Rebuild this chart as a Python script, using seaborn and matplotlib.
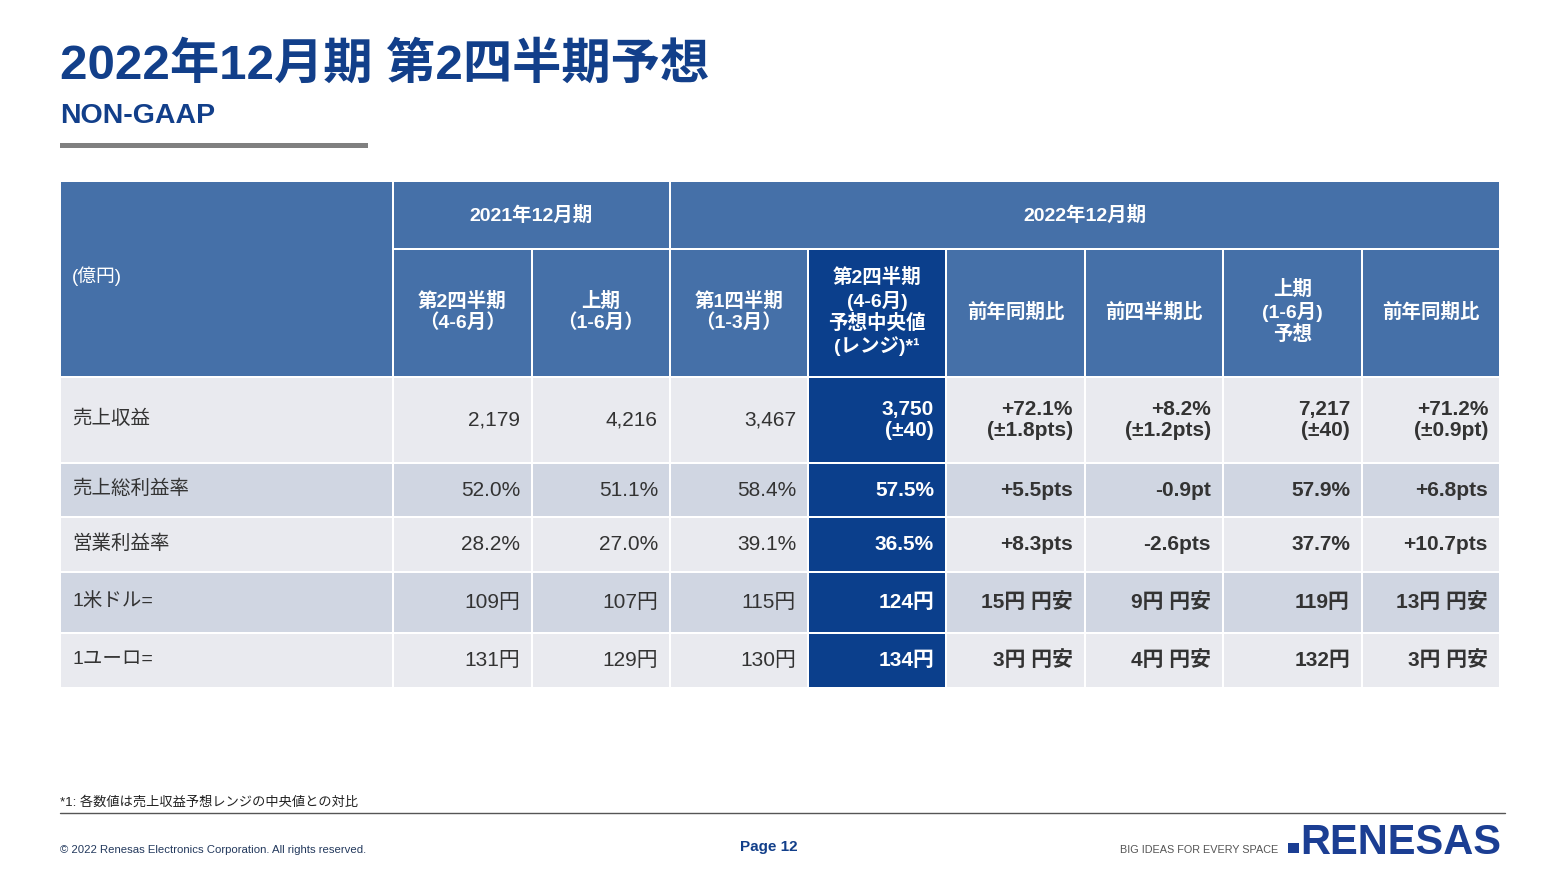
import matplotlib
matplotlib.use("Agg")
import matplotlib.pyplot as plt
from matplotlib.patches import Rectangle
import seaborn as sns

# ---------------- data ----------------
title = "2022年12月期 第2四半期予想"
subtitle = "NON-GAAP"
unit_label = "(億円)"
group_labels = ["2021年12月期", "2022年12月期"]
group_spans = [(1, 3), (3, 9)]          # column index ranges covered by each group
col_labels = ["第2四半期\n（4-6月）", "上期\n（1-6月）", "第1四半期\n（1-3月）",
              "第2四半期\n(4-6月)\n予想中央値\n(レンジ)*¹", "前年同期比", "前四半期比",
              "上期\n(1-6月)\n予想", "前年同期比"]
row_labels = ["売上収益", "売上総利益率", "営業利益率", "1米ドル=", "1ユーロ="]

q2_2021 = ["2,179", "52.0%", "28.2%", "109円", "131円"]
h1_2021 = ["4,216", "51.1%", "27.0%", "107円", "129円"]
q1_2022 = ["3,467", "58.4%", "39.1%", "115円", "130円"]
q2_2022_fc = ["3,750\n(±40)", "57.5%", "36.5%", "124円", "134円"]
yoy_q2 = ["+72.1%\n(±1.8pts)", "+5.5pts", "+8.3pts", "15円 円安", "3円 円安"]
qoq_q2 = ["+8.2%\n(±1.2pts)", "-0.9pt", "-2.6pts", "9円 円安", "4円 円安"]
h1_2022_fc = ["7,217\n(±40)", "57.9%", "37.7%", "119円", "132円"]
yoy_h1 = ["+71.2%\n(±0.9pt)", "+6.8pts", "+10.7pts", "13円 円安", "3円 円安"]
value_columns = [q2_2021, h1_2021, q1_2022, q2_2022_fc, yoy_q2, qoq_q2, h1_2022_fc, yoy_h1]
highlight_col = 3
bold_cols = [3, 4, 5, 6, 7]

footnote = "*1: 各数値は売上収益予想レンジの中央値との対比"
copyright_txt = "© 2022 Renesas Electronics Corporation. All rights reserved."
page_txt = "Page 12"
tagline = "BIG IDEAS FOR EVERY SPACE"
logo_txt = "RENESAS"

# ---------------- layout / style ----------------
col_edges = [60, 393, 532, 670, 808, 946, 1085, 1223, 1362, 1500]
row_edges = [181, 249, 377, 463, 517, 572, 633, 688]
HEAD_BLUE = "#4570a8"
DARK_BLUE = "#0b3f8c"
NAVY = "#123f8a"
LIGHT = "#e9eaef"
ALT = "#d0d6e2"
TXT = "#333333"

sns.set_theme(style="white")
FONT = ["Liberation Sans", "Noto Sans CJK JP", "DejaVu Sans"]
plt.rcParams["font.family"] = FONT

fig = plt.figure(figsize=(15.65, 8.8), dpi=100)
ax = fig.add_axes([0, 0, 1, 1])
ax.set_xlim(0, 1565)
ax.set_ylim(880, 0)
ax.axis("off")


def cell(x0, x1, y0, y1, color):
    ax.add_patch(Rectangle((x0 + 1, y0 + 1), x1 - x0 - 2, y1 - y0 - 2,
                           facecolor=color, edgecolor="none"))


# title block
ax.text(60, 66, title, fontsize=35.5, fontweight="bold", color=NAVY, ha="left", va="center")
ax.text(60, 116, subtitle, fontsize=20.5, fontweight="bold", color=NAVY, ha="left", va="center")
ax.add_patch(Rectangle((60, 143), 308, 5, facecolor="#808080", edgecolor="none"))

# header
cell(col_edges[0], col_edges[1], row_edges[0], row_edges[2], HEAD_BLUE)
ax.text(72, 276, unit_label, fontsize=13.5, color="white", ha="left", va="center")
for lab, (c0, c1) in zip(group_labels, group_spans):
    cell(col_edges[c0], col_edges[c1], row_edges[0], row_edges[1], HEAD_BLUE)
    ax.text((col_edges[c0] + col_edges[c1]) / 2, (row_edges[0] + row_edges[1]) / 2, lab,
            fontsize=14, fontweight="bold", color="white", ha="center", va="center")
for j, lab in enumerate(col_labels):
    c = j + 1
    color = DARK_BLUE if j == highlight_col else HEAD_BLUE
    cell(col_edges[c], col_edges[c + 1], row_edges[1], row_edges[2], color)
    ax.text((col_edges[c] + col_edges[c + 1]) / 2, (row_edges[1] + row_edges[2]) / 2 - 1, lab,
            fontsize=14, fontweight="bold", color="white", ha="center", va="center",
            multialignment="center", linespacing=1.2)

# body
for i, rlab in enumerate(row_labels):
    y0, y1 = row_edges[i + 2], row_edges[i + 3]
    ymid = (y0 + y1) / 2
    bg = LIGHT if i % 2 == 0 else ALT
    cell(col_edges[0], col_edges[1], y0, y1, bg)
    ax.text(72, ymid - 1, rlab, fontsize=14, color=TXT, ha="left", va="center")
    for j, col in enumerate(value_columns):
        c = j + 1
        is_hl = j == highlight_col
        cell(col_edges[c], col_edges[c + 1], y0, y1, DARK_BLUE if is_hl else bg)
        ax.text(col_edges[c + 1] - 12, ymid, col[i], fontsize=15,
                fontweight="bold" if j in bold_cols else "normal",
                color="white" if is_hl else TXT, ha="right", va="center",
                multialignment="right", linespacing=1.15)

# footnote and footer
ax.text(60, 802, footnote, fontsize=9.5, color="#222222", ha="left", va="center")
ax.plot([60, 1505], [813, 813], color="#555555", lw=1)
ax.text(60, 850, copyright_txt, fontsize=8.2, color="#23395d", ha="left", va="center")
ax.text(740, 847, page_txt, fontsize=11, fontweight="bold", color=NAVY, ha="left", va="center")
ax.text(1120, 850, tagline, fontsize=7.8, color="#555555", ha="left", va="center")
ax.add_patch(Rectangle((1288, 843), 11, 10, facecolor="#1b3e93", edgecolor="none"))
ax.text(1300, 843, logo_txt, fontsize=30, fontweight="bold", color="#1b3e93", ha="left", va="center")

fig.savefig("out.png", dpi=100)
